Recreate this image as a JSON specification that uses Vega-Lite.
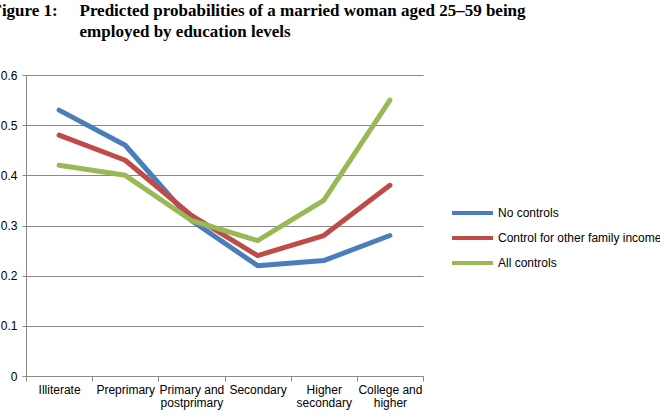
{
  "$schema": "https://vega.github.io/schema/vega-lite/v6.json",
  "autosize": {"type": "none"},
  "width": 397,
  "height": 301,
  "padding": {"left": 26, "top": 75, "right": 237, "bottom": 40},
  "background": "white",
  "data": {
    "values": [
      {"level": "Illiterate", "series": "No controls", "p": 0.53},
      {"level": "Preprimary", "series": "No controls", "p": 0.46},
      {"level": "Primary and postprimary", "series": "No controls", "p": 0.31},
      {"level": "Secondary", "series": "No controls", "p": 0.22},
      {"level": "Higher secondary", "series": "No controls", "p": 0.23},
      {"level": "College and higher", "series": "No controls", "p": 0.28},
      {"level": "Illiterate", "series": "Control for other family income", "p": 0.48},
      {"level": "Preprimary", "series": "Control for other family income", "p": 0.43},
      {"level": "Primary and postprimary", "series": "Control for other family income", "p": 0.32},
      {"level": "Secondary", "series": "Control for other family income", "p": 0.24},
      {"level": "Higher secondary", "series": "Control for other family income", "p": 0.28},
      {"level": "College and higher", "series": "Control for other family income", "p": 0.38},
      {"level": "Illiterate", "series": "All controls", "p": 0.42},
      {"level": "Preprimary", "series": "All controls", "p": 0.40},
      {"level": "Primary and postprimary", "series": "All controls", "p": 0.31},
      {"level": "Secondary", "series": "All controls", "p": 0.27},
      {"level": "Higher secondary", "series": "All controls", "p": 0.35},
      {"level": "College and higher", "series": "All controls", "p": 0.55}
    ]
  },
  "mark": {"type": "line", "strokeWidth": 5, "strokeCap": "round", "strokeJoin": "round"},
  "encoding": {
    "x": {
      "field": "level",
      "type": "nominal",
      "sort": null,
      "scale": {"type": "band", "paddingInner": 0, "paddingOuter": 0},
      "axis": {
        "title": "Figure 1:",
        "titleX": -35,
        "titleY": -374,
        "titleAlign": "left",
        "titleBaseline": "top",
        "titleAngle": 0,
        "titleFont": "Liberation Serif",
        "titleFontSize": 17,
        "titleFontWeight": "bold",
        "titleColor": "#000000",
        "labelAngle": 0,
        "tickBand": "extent",
        "tickSize": 5,
        "labelPadding": 3,
        "labelLineHeight": 13,
        "labelExpr": "isString(datum.value) && indexof(datum.value, ' ') >= 0 ? [substring(datum.value, 0, lastindexof(datum.value, ' ')), substring(datum.value, lastindexof(datum.value, ' ') + 1)] : datum.label"
      }
    },
    "y": {
      "field": "p",
      "type": "quantitative",
      "scale": {"domain": [0, 0.6], "nice": false},
      "axis": {
        "title": [
          "Predicted probabilities of a married woman aged 25–59 being",
          "employed by education levels"
        ],
        "titleX": 53,
        "titleY": -73,
        "titleAlign": "left",
        "titleBaseline": "top",
        "titleAngle": 0,
        "titleLineHeight": 21,
        "titleFont": "Liberation Serif",
        "titleFontSize": 17,
        "titleFontWeight": "bold",
        "titleColor": "#000000",
        "values": [0, 0.1, 0.2, 0.3, 0.4, 0.5, 0.6],
        "labelExpr": "datum.value == 0 ? '0' : format(datum.value, '.1f')",
        "tickSize": 4,
        "labelPadding": 5,
        "grid": true
      }
    },
    "color": {
      "field": "series",
      "type": "nominal",
      "sort": null,
      "scale": {
        "domain": ["No controls", "Control for other family income", "All controls"],
        "range": ["#4A7EBB", "#BE4B48", "#98B954"]
      },
      "legend": {
        "title": null,
        "orient": "none",
        "legendX": 424,
        "legendY": 130,
        "symbolType": "stroke",
        "symbolSize": 1681,
        "symbolStrokeWidth": 4,
        "clipHeight": 16,
        "rowPadding": 9,
        "labelOffset": 3,
        "labelFont": "Liberation Sans",
        "labelFontSize": 12,
        "labelColor": "#000000",
        "labelLimit": 300
      }
    }
  },
  "config": {
    "view": {"stroke": null},
    "axis": {
      "labelFont": "Liberation Sans",
      "labelFontSize": 12,
      "labelColor": "#000000",
      "domainColor": "#888888",
      "tickColor": "#888888",
      "gridColor": "#888888"
    }
  }
}
